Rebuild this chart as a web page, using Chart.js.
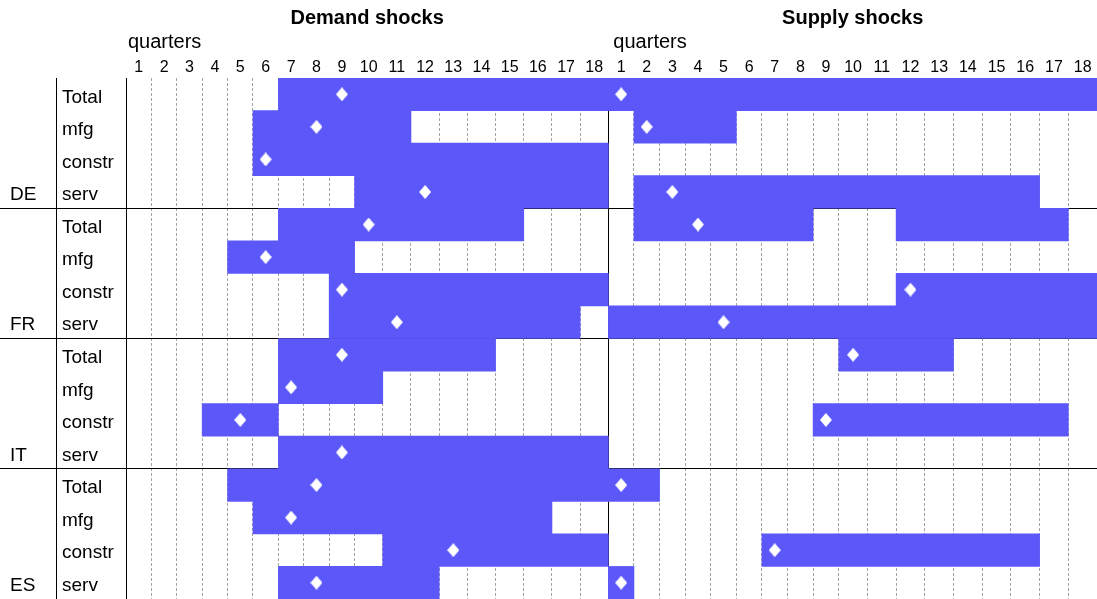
<!DOCTYPE html>
<html>
<head>
<meta charset="utf-8">
<title>Demand and supply shocks</title>
<script src="https://cdn.jsdelivr.net/npm/chart.js@4.4.1/dist/chart.umd.min.js"></script>
<style>
  body { margin: 0; background: #fff; }
  #wrap { position: relative; width: 1097px; height: 599px; }
</style>
</head>
<body>
<div id="wrap"><canvas id="shocks"></canvas></div>
<script>
var panelTitles = ['Demand shocks', 'Supply shocks'];
var axisName = 'quarters';
var countries = ['DE', 'FR', 'IT', 'ES'];
var sectors = ['Total', 'mfg', 'constr', 'serv'];
var quarters = ['1', '2', '3', '4', '5', '6', '7', '8', '9', '10', '11', '12', '13', '14', '15', '16', '17', '18'];

// first and last quarter of each shaded stretch, one entry per row
// rows run DE Total, DE mfg, DE constr, DE serv, FR Total ... ES serv
var demandSpans = [
  [[7, 18]], [[6, 11]], [[6, 18]], [[10, 18]],
  [[7, 15]], [[5, 9]], [[9, 18]], [[9, 17]],
  [[7, 14]], [[7, 10]], [[4, 6]], [[7, 18]],
  [[5, 18]], [[6, 16]], [[11, 18]], [[7, 12]]
];
var supplySpans = [
  [[1, 18]], [[2, 5]], [], [[2, 16]],
  [[2, 8], [12, 17]], [], [[12, 18]], [[1, 18]],
  [[10, 13]], [], [[9, 17]], [],
  [[1, 2]], [], [[7, 16]], [[1, 1]]
];
// quarter with the diamond (null = none)
var demandPeaks = [9, 8, 6, 12, 10, 6, 9, 11, 9, 7, 5, 9, 8, 7, 13, 8];
var supplyPeaks = [1, 2, null, 3, 4, null, 12, 5, 10, null, 9, null, 1, null, 7, 1];

// column widths (px): quarters 1-9 are narrower than the two-digit ones
var demandCols = [25.4, 28.2];
var supplyCols = [25.6, 28.7];
var font = '"Liberation Sans", Arial, sans-serif';
var barColor = '#5B57F9';

function colEdges(widths, start) {
  var edges = [start];
  for (var i = 0; i < quarters.length; i++) {
    edges.push(edges[i] + (i < 9 ? widths[0] : widths[1]));
  }
  return edges;
}
var demandEdges = colEdges(demandCols, 0);
var supplyEdges = colEdges(supplyCols, demandEdges[quarters.length]);
var split = demandEdges[quarters.length];
var xMax = supplyEdges[quarters.length];

var rowKeys = [], sectorColumn = [], countryColumn = [];
countries.forEach(function (c) {
  sectors.forEach(function (s, j) {
    rowKeys.push(c + ' ' + s);
    sectorColumn.push(s);
    countryColumn.push(j === sectors.length - 1 ? c : '');
  });
});

var bars = [], marks = [];
function addPanel(spans, peaks, edges) {
  spans.forEach(function (row, r) {
    row.forEach(function (s) {
      bars.push({ y: rowKeys[r], x: [edges[s[0] - 1], edges[s[1]]] });
    });
    if (peaks[r] !== null) {
      marks.push({ y: rowKeys[r], x: (edges[peaks[r] - 1] + edges[peaks[r]]) / 2 });
    }
  });
}
addPanel(demandSpans, demandPeaks, demandEdges);
addPanel(supplySpans, supplyPeaks, supplyEdges);

var centers = [], inner = [];
[demandEdges, supplyEdges].forEach(function (edges) {
  for (var i = 0; i < quarters.length; i++) {
    centers.push((edges[i] + edges[i + 1]) / 2);
    if (i > 0) inner.push(edges[i]);
  }
});

// white diamond marker, a bit taller than wide
var diamond = document.createElement('canvas');
diamond.width = 12;
diamond.height = 14;
var dc = diamond.getContext('2d');
dc.fillStyle = '#fff';
dc.beginPath();
dc.moveTo(6, 0);
dc.lineTo(12, 7);
dc.lineTo(6, 14);
dc.lineTo(0, 7);
dc.closePath();
dc.fill();

function blockLine(ctx) {
  var i = ctx.index;
  return (i > 0 && i < rowKeys.length && i % sectors.length === 0) ? '#000' : 'rgba(0,0,0,0)';
}

// fixed axis sizes, and no extra padding around the grid
function fixWidth(w) {
  return function (s) {
    s.width = w;
    s.paddingTop = 0;
    s.paddingBottom = 0;
  };
}
function fixHeight(h) {
  return function (s) {
    s.height = h;
    s.paddingLeft = 0;
    s.paddingRight = 0;
  };
}

// panel headings and the "quarters" captions above the tick numbers
var panelHeads = {
  id: 'panelHeads',
  afterDraw: function (chart) {
    var ctx = chart.ctx, x = chart.scales.x;
    var left = x.getPixelForValue(0), mid = x.getPixelForValue(split), right = x.getPixelForValue(xMax);
    ctx.save();
    ctx.fillStyle = '#000';
    ctx.textBaseline = 'middle';
    ctx.textAlign = 'center';
    ctx.font = 'bold 20px ' + font;
    ctx.fillText(panelTitles[0], (left + mid) / 2, 18);
    ctx.fillText(panelTitles[1], (mid + right) / 2, 18);
    ctx.textAlign = 'left';
    ctx.font = '20px ' + font;
    ctx.fillText(axisName, left + 2, 42);
    ctx.fillText(axisName, mid + 5, 42);
    ctx.restore();
  }
};

new Chart(document.getElementById('shocks'), {
  type: 'bar',
  data: {
    labels: rowKeys,
    datasets: [
      {
        type: 'line',
        data: marks,
        xAxisID: 'x',
        yAxisID: 'y',
        showLine: false,
        pointStyle: diamond,
        pointRadius: 6,
        pointHoverRadius: 6,
        order: 0
      },
      {
        data: bars,
        xAxisID: 'x',
        yAxisID: 'y',
        backgroundColor: barColor,
        barPercentage: 1,
        categoryPercentage: 1,
        grouped: false,
        order: 1
      }
    ]
  },
  options: {
    indexAxis: 'y',
    responsive: true,
    maintainAspectRatio: false,
    animation: false,
    layout: { padding: 0, autoPadding: false },
    plugins: {
      legend: { display: false },
      tooltip: { enabled: false }
    },
    scales: {
      x: {
        type: 'linear',
        position: 'top',
        min: 0,
        max: xMax,
        afterBuildTicks: function (s) {
          s.ticks = centers.map(function (v) { return { value: v }; });
        },
        afterFit: fixHeight(78),
        ticks: {
          autoSkip: false,
          maxRotation: 0,
          padding: 1,
          color: '#000',
          font: { family: font, size: 16 },
          callback: function (v, i) { return quarters[i % quarters.length]; }
        },
        grid: { display: false, drawTicks: false },
        border: { display: false }
      },
      x2: {
        type: 'linear',
        position: 'bottom',
        min: 0,
        max: xMax,
        z: 1,
        afterBuildTicks: function (s) {
          s.ticks = inner.map(function (v) { return { value: v }; });
        },
        afterFit: fixHeight(0),
        ticks: { display: false },
        grid: { color: '#a3a3a3', lineWidth: 1, drawTicks: false },
        border: { display: false, dash: [3, 2] }
      },
      x3: {
        type: 'linear',
        position: 'bottom',
        min: 0,
        max: xMax,
        z: 1,
        afterBuildTicks: function (s) {
          s.ticks = [{ value: split }];
        },
        afterFit: fixHeight(0),
        ticks: { display: false },
        grid: { color: '#000', lineWidth: 1, drawTicks: false },
        border: { display: false }
      },
      y: {
        type: 'category',
        position: 'left',
        weight: 0,
        z: 1,
        offset: true,
        afterFit: fixWidth(70),
        ticks: { display: false },
        grid: { offset: true, color: blockLine, tickColor: blockLine, tickLength: 70, lineWidth: 1 },
        border: { display: true, color: '#000', width: 1 }
      },
      ySector: {
        type: 'category',
        labels: sectorColumn,
        position: 'left',
        weight: 1,
        offset: true,
        afterFit: fixWidth(46),
        ticks: { mirror: true, padding: 6, labelOffset: 3, color: '#000', font: { family: font, size: 19 } },
        grid: { offset: true, drawOnChartArea: false, color: blockLine, tickColor: blockLine, tickLength: 46 },
        border: { display: true, color: '#000', width: 1 }
      },
      yCountry: {
        type: 'category',
        labels: countryColumn,
        position: 'left',
        weight: 2,
        offset: true,
        afterFit: fixWidth(10),
        ticks: { mirror: true, padding: 0, labelOffset: 3, color: '#000', font: { family: font, size: 19 } },
        grid: { offset: true, drawOnChartArea: false, color: blockLine, tickColor: blockLine, tickLength: 10 },
        border: { display: false }
      }
    }
  },
  plugins: [panelHeads]
});
</script>
</body>
</html>
